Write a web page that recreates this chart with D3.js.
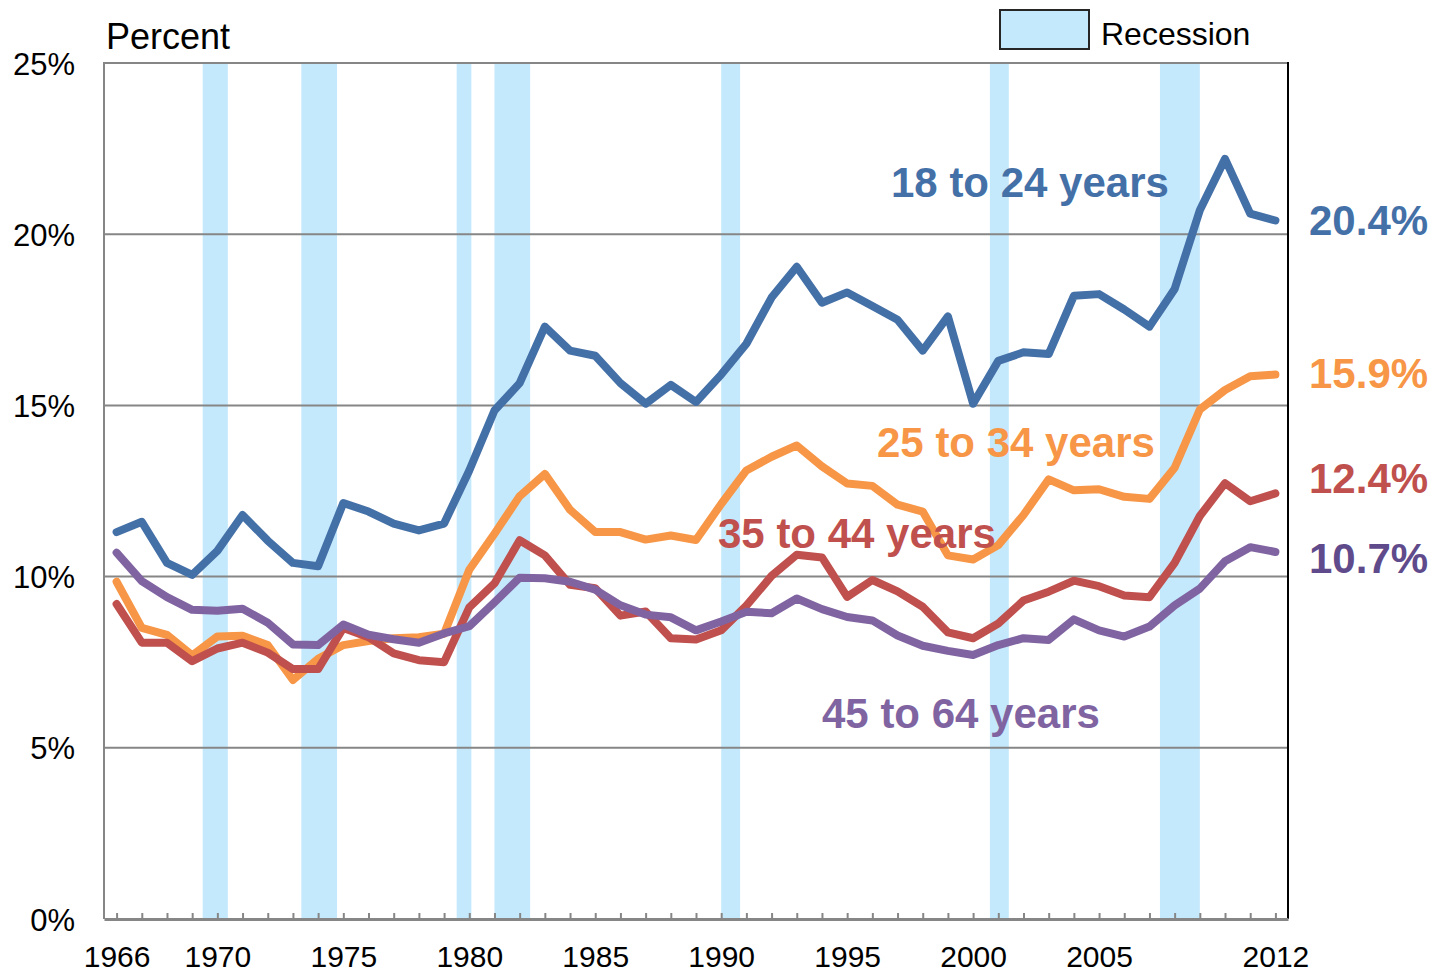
<!DOCTYPE html>
<html>
<head>
<meta charset="utf-8">
<script src="https://cdn.jsdelivr.net/npm/d3@7"></script>
<style>
  body { margin: 0; background: #fff; }
  svg { display: block; font-family: "Liberation Sans", Arial, sans-serif; }
</style>
</head>
<body>
<div id="chart"></div>
<script>
var years = d3.range(1966, 2013);
var yearLabels = [1966, 1970, 1975, 1980, 1985, 1990, 1995, 2000, 2005, 2012];
var pctTicks = [0, 5, 10, 15, 20, 25];

var age18to24 = [11.3, 11.6, 10.4, 10.05, 10.75, 11.8, 11.05, 10.4, 10.3, 12.15,
  11.9, 11.55, 11.35, 11.55, 13.1, 14.85, 15.65, 17.3, 16.6, 16.45,
  15.65, 15.05, 15.6, 15.1, 15.9, 16.8, 18.15, 19.05, 18.0, 18.3,
  17.9, 17.5, 16.6, 17.6, 15.05, 16.3, 16.55, 16.5, 18.2, 18.25,
  17.8, 17.3, 18.4, 20.7, 22.2, 20.6, 20.4];
var age25to34 = [9.85, 8.5, 8.3, 7.7, 8.25, 8.27, 8.0, 6.98, 7.6, 8.0,
  8.12, 8.2, 8.23, 8.33, 10.2, 11.25, 12.35, 13.0, 11.95, 11.3,
  11.3, 11.08, 11.2, 11.07, 12.12, 13.1, 13.5, 13.83, 13.22, 12.72,
  12.65, 12.1, 11.9, 10.62, 10.5, 10.92, 11.8, 12.84, 12.52, 12.55,
  12.33, 12.27, 13.18, 14.88, 15.45, 15.85, 15.9];
var age35to44 = [9.2, 8.07, 8.07, 7.53, 7.9, 8.07, 7.78, 7.3, 7.3, 8.5,
  8.23, 7.76, 7.56, 7.5, 9.1, 9.8, 11.06, 10.62, 9.76, 9.66,
  8.86, 8.98, 8.2, 8.16, 8.43, 9.15, 10.02, 10.64, 10.56, 9.41,
  9.9, 9.57, 9.12, 8.37, 8.2, 8.63, 9.3, 9.56, 9.88, 9.72,
  9.45, 9.4, 10.4, 11.77, 12.73, 12.2, 12.43];
var age45to64 = [10.7, 9.87, 9.4, 9.03, 9.0, 9.06, 8.65, 8.02, 8.0, 8.6,
  8.3, 8.17, 8.07, 8.34, 8.55, 9.25, 9.97, 9.95, 9.85, 9.62,
  9.16, 8.89, 8.81, 8.43, 8.69, 8.97, 8.93, 9.36, 9.05, 8.82,
  8.72, 8.28, 7.98, 7.83, 7.71, 8.0, 8.2, 8.15, 8.75, 8.43,
  8.25, 8.54, 9.16, 9.65, 10.45, 10.86, 10.72];

// recessions as decimal years (start month, end month inclusive)
var recessionStart = [1969 + 11/12, 1973 + 10/12, 1980.0, 1981.5, 1990.5, 2001 + 2/12, 2007 + 11/12];
var recessionEnd = [1970 + 11/12, 1975 + 3/12, 1980 + 7/12, 1982 + 11/12, 1991 + 3/12, 2001 + 11/12, 2009.5];

var seriesNames = ["18 to 24 years", "25 to 34 years", "35 to 44 years", "45 to 64 years"];
var seriesValues = [age18to24, age25to34, age35to44, age45to64];
var seriesColors = ["#4470a8", "#f79646", "#c0504d", "#8064a2"];
var endLabelColors = ["#4470a8", "#f79646", "#c0504d", "#5f4b8b"];
var nameLabelPos = [[891, 197], [877, 457], [718, 548], [822, 728]];
var endLabelY = [235, 388, 493, 573];

var width = 1439, height = 972;
var plotLeft = 104, plotRight = 1288, plotTop = 63, plotBottom = 919;

var svg = d3.select("#chart").append("svg")
  .attr("width", width)
  .attr("height", height);

var x = d3.scaleLinear().domain([1966, 2013]).range([plotLeft, plotRight]);
var y = d3.scaleLinear().domain([0, 25]).range([plotBottom, plotTop]);

svg.selectAll("rect.recession")
  .data(recessionStart)
  .enter()
  .append("rect")
  .attr("class", "recession")
  .attr("x", function(d) { return x(d); })
  .attr("y", plotTop)
  .attr("width", function(d, i) { return x(recessionEnd[i]) - x(d); })
  .attr("height", plotBottom - plotTop)
  .attr("fill", "#c5e9fc");

svg.selectAll("line.grid")
  .data(pctTicks.slice(1))
  .enter()
  .append("line")
  .attr("class", "grid")
  .attr("x1", plotLeft)
  .attr("x2", plotRight)
  .attr("y1", function(d) { return y(d); })
  .attr("y2", function(d) { return y(d); })
  .attr("stroke", "#868686")
  .attr("stroke-width", 2);

svg.append("line")
  .attr("x1", plotLeft).attr("x2", plotLeft)
  .attr("y1", plotTop - 1).attr("y2", plotBottom)
  .attr("stroke", "#868686").attr("stroke-width", 2);

svg.append("line")
  .attr("x1", plotRight).attr("x2", plotRight)
  .attr("y1", plotTop - 1).attr("y2", plotBottom)
  .attr("stroke", "#000").attr("stroke-width", 2);

var yAxis = svg.append("g")
  .attr("transform", "translate(" + plotLeft + ",0)")
  .call(d3.axisLeft(y).tickValues(pctTicks).tickSize(0).tickPadding(29)
    .tickFormat(function(d) { return d + "%"; }));
yAxis.select(".domain").remove();
yAxis.selectAll("text")
  .attr("font-size", 31)
  .attr("font-family", "Liberation Sans, Arial, sans-serif")
  .attr("fill", "#000")
  .attr("dy", "0.36em");

var xTicks = svg.append("g")
  .attr("transform", "translate(0," + plotBottom + ")")
  .call(d3.axisBottom(x).tickValues(years.map(function(d) { return d + 0.5; }))
    .tickSizeInner(-6).tickSizeOuter(0).tickFormat(""));
xTicks.select(".domain").attr("stroke", "#868686").attr("stroke-width", 3);
xTicks.selectAll(".tick line").attr("stroke", "#868686").attr("stroke-width", 2);

var xLabels = svg.append("g")
  .attr("transform", "translate(0," + plotBottom + ")")
  .call(d3.axisBottom(x).tickValues(yearLabels.map(function(d) { return d + 0.5; }))
    .tickSize(0).tickPadding(0).tickFormat(function(d) { return Math.floor(d); }));
xLabels.select(".domain").remove();
xLabels.selectAll("text")
  .attr("font-size", 30)
  .attr("font-family", "Liberation Sans, Arial, sans-serif")
  .attr("fill", "#000")
  .attr("y", 48)
  .attr("dy", 0);

svg.append("text")
  .attr("x", 106)
  .attr("y", 49)
  .attr("font-size", 36)
  .text("Percent");

svg.append("rect")
  .attr("x", 1000)
  .attr("y", 10)
  .attr("width", 89)
  .attr("height", 39)
  .attr("fill", "#c5e9fc")
  .attr("stroke", "#262626")
  .attr("stroke-width", 2);

svg.append("text")
  .attr("x", 1101)
  .attr("y", 45)
  .attr("font-size", 32)
  .text("Recession");

var line = d3.line()
  .x(function(d, i) { return x(years[i] + 0.5); })
  .y(function(d) { return y(d); });

svg.selectAll("path.series")
  .data(seriesValues)
  .enter()
  .append("path")
  .attr("class", "series")
  .attr("d", line)
  .attr("fill", "none")
  .attr("stroke", function(d, i) { return seriesColors[i]; })
  .attr("stroke-width", 8)
  .attr("stroke-linecap", "round")
  .attr("stroke-linejoin", "round");

svg.selectAll("text.name")
  .data(seriesNames)
  .enter()
  .append("text")
  .attr("class", "name")
  .attr("x", function(d, i) { return nameLabelPos[i][0]; })
  .attr("y", function(d, i) { return nameLabelPos[i][1]; })
  .attr("font-size", 42)
  .attr("font-weight", "bold")
  .attr("fill", function(d, i) { return seriesColors[i]; })
  .text(function(d) { return d; });

svg.selectAll("text.end")
  .data(seriesValues)
  .enter()
  .append("text")
  .attr("class", "end")
  .attr("x", 1309)
  .attr("y", function(d, i) { return endLabelY[i]; })
  .attr("font-size", 42)
  .attr("font-weight", "bold")
  .attr("fill", function(d, i) { return endLabelColors[i]; })
  .text(function(d) { return d3.format(".1f")(d[d.length - 1]) + "%"; });
</script>
</body>
</html>
